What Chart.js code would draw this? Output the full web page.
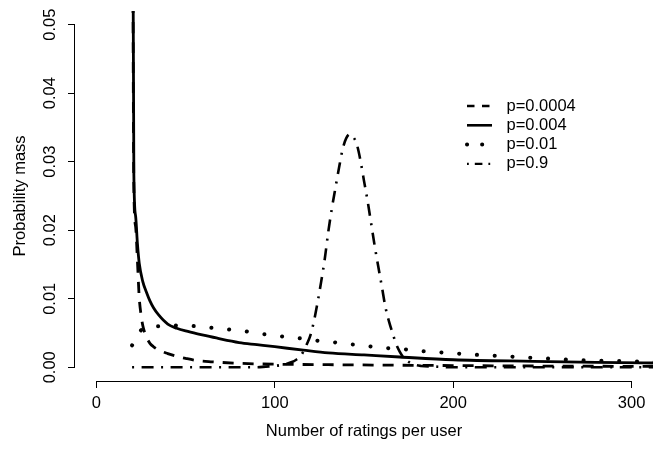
<!DOCTYPE html>
<html>
<head>
<meta charset="utf-8">
<script src="https://cdn.jsdelivr.net/npm/chart.js@4/dist/chart.umd.min.js"></script>
<style>
  html, body { margin: 0; padding: 0; background: #fff; }
  #wrap { width: 667px; height: 451px; }
</style>
</head>
<body>
<div id="wrap"><canvas id="chart" width="667" height="451"></canvas></div>
<script>
// ratings per user (x) and probability mass (y), one pair of arrays per p
const ratingsA = [20, 21, 22, 23, 24, 25, 26, 27, 28, 30, 32, 35, 40, 45, 50, 56, 65, 78, 100, 130, 160, 200, 250, 320];
const massA = [0.1, 0.026, 0.0205, 0.0155, 0.0102, 0.0077, 0.0061, 0.0051, 0.0044, 0.0035, 0.003, 0.0025, 0.002, 0.0016, 0.0013, 0.001, 0.0008, 0.0006, 0.00045, 0.00038, 0.00032, 0.00025, 0.00018, 0.00012];

const ratingsB = [20, 21, 22, 23, 24, 26, 28, 30, 32, 35, 40, 45, 50, 60, 70, 80, 90, 100, 116, 130, 150, 170, 200, 245, 280, 320];
const massB = [0.1, 0.028, 0.022, 0.018, 0.0152, 0.0125, 0.011, 0.0097, 0.0087, 0.0076, 0.0063, 0.0057, 0.0053, 0.0047, 0.0041, 0.0036, 0.0033, 0.003, 0.0025, 0.0021, 0.0018, 0.0015, 0.0011, 0.00087, 0.00072, 0.0006];

const ratingsC = [20, 22, 25, 30, 35, 45, 55, 65, 75, 85, 95, 105, 115, 125, 135, 145, 155, 165, 175, 185, 195, 205, 215, 225, 235, 245, 255, 265, 275, 285, 295, 305, 320];
const massC = [0.0032, 0.0045, 0.0054, 0.0059, 0.006, 0.0061, 0.006, 0.00575, 0.0055, 0.0052, 0.0048, 0.00447, 0.0042, 0.00385, 0.0036, 0.0033, 0.003, 0.00275, 0.00257, 0.0023, 0.00214, 0.00195, 0.0018, 0.00167, 0.00152, 0.00138, 0.00124, 0.0011, 0.001, 0.00095, 0.0009, 0.00085, 0.0008];

const ratingsD = [20, 60, 90, 95, 100, 105, 110, 112, 114, 116, 118, 120, 122, 124, 126, 128, 130, 132, 134, 136, 138, 140, 142, 144, 146, 148, 150, 152, 154, 156, 158, 160, 162, 164, 166, 168, 170, 172, 175, 178, 182, 190, 200, 320];
const massD = [0, 0, 0, 0.0001, 0.0002, 0.0004, 0.0008, 0.0011, 0.0015, 0.0023, 0.0034, 0.0047, 0.0068, 0.0095, 0.0125, 0.0158, 0.0198, 0.0232, 0.0262, 0.0291, 0.0318, 0.0334, 0.034, 0.0336, 0.0325, 0.0302, 0.0272, 0.0243, 0.021, 0.0177, 0.0147, 0.0118, 0.0088, 0.0067, 0.005, 0.0034, 0.0023, 0.0015, 0.0008, 0.0004, 0.0002, 0.0001, 0, 0];

const seriesLabels = ['p=0.0004', 'p=0.004', 'p=0.01', 'p=0.9'];
const xTicks = [0, 100, 200, 300];
const yTicks = [0, 0.01, 0.02, 0.03, 0.04, 0.05];

const FONT = { family: 'Liberation Sans, Arial, Helvetica, sans-serif', size: 16.5 };

function pts(xs, ys) {
  return xs.map((x, i) => ({ x: x, y: ys[i] }));
}

function line(label, xs, ys, extra) {
  return Object.assign({
    label: label,
    data: pts(xs, ys),
    borderColor: '#000',
    borderWidth: 2.8,
    pointRadius: 0,
    cubicInterpolationMode: 'monotone',
    fill: false,
    clip: 0
  }, extra);
}

// R-style axes: the axis line only runs from the first to the last tick
const rAxes = {
  id: 'rAxes',
  afterDraw(chart) {
    const ctx = chart.ctx;
    const xs = chart.scales.x, ys = chart.scales.y;
    const area = chart.chartArea;
    ctx.save();
    ctx.strokeStyle = '#000';
    ctx.lineWidth = 1;
    ctx.beginPath();
    ctx.moveTo(xs.getPixelForValue(xTicks[0]), Math.round(area.bottom) + 0.5);
    ctx.lineTo(xs.getPixelForValue(xTicks[xTicks.length - 1]), Math.round(area.bottom) + 0.5);
    ctx.moveTo(Math.round(area.left) - 0.5, ys.getPixelForValue(yTicks[0]));
    ctx.lineTo(Math.round(area.left) - 0.5, ys.getPixelForValue(yTicks[yTicks.length - 1]));
    ctx.stroke();
    ctx.restore();
  }
};

// key inside the plot, no frame
const insetKey = {
  id: 'insetKey',
  afterDraw(chart) {
    const ctx = chart.ctx;
    const x0 = 467, x1 = 492, tx = 506.5;
    let y = 106;
    ctx.save();
    ctx.font = FONT.size + 'px ' + FONT.family;
    ctx.textBaseline = 'middle';
    ctx.fillStyle = '#000';
    chart.data.datasets.forEach(ds => {
      ctx.save();
      ctx.strokeStyle = '#000';
      ctx.lineWidth = ds.keyWidth;
      ctx.lineCap = ds.borderCapStyle || 'butt';
      ctx.setLineDash(ds.keyDash);
      ctx.beginPath();
      ctx.moveTo(x0, y);
      ctx.lineTo(x1, y);
      ctx.stroke();
      ctx.restore();
      ctx.fillText(ds.label, tx, y);
      y += 19.3;
    });
    ctx.restore();
  }
};

const ctx = document.getElementById('chart').getContext('2d');
new Chart(ctx, {
  type: 'line',
  data: {
    datasets: [
      line(seriesLabels[0], ratingsA, massA, { borderDash: [11, 9], keyDash: [7.5, 7.5], keyWidth: 2.6 }),
      line(seriesLabels[1], ratingsB, massB, { keyDash: [], keyWidth: 2.6 }),
      line(seriesLabels[2], ratingsC, massC, { borderWidth: 4, borderCapStyle: 'round', borderDash: [0.1, 17.7], keyDash: [0.1, 15], keyWidth: 4 }),
      line(seriesLabels[3], ratingsD, massD, { borderWidth: 2.6, borderDash: [2, 7.5, 12, 7.5], keyDash: [1.8, 6, 7.6, 6], keyWidth: 2.4 })
    ]
  },
  options: {
    responsive: false,
    animation: false,
    events: [],
    layout: { padding: { top: 3, right: 14, left: 0, bottom: 0 } },
    plugins: { legend: { display: false }, tooltip: { enabled: false } },
    scales: {
      x: {
        type: 'linear',
        min: -12,
        max: 312,
        afterBuildTicks: s => { s.ticks = xTicks.map(v => ({ value: v })); },
        afterFit: s => { s.height = 70; },
        grid: { drawOnChartArea: false, drawTicks: true, tickLength: 7, color: '#000', lineWidth: 1 },
        border: { display: false },
        ticks: { color: '#000', font: FONT, padding: 6, maxRotation: 0, callback: v => String(v) },
        title: { display: true, text: 'Number of ratings per user', color: '#000', font: FONT, padding: { top: 0, bottom: 9.3 } }
      },
      y: {
        type: 'linear',
        min: -0.002,
        max: 0.052,
        afterBuildTicks: s => { s.ticks = yTicks.map(v => ({ value: v })); },
        afterFit: s => { s.width = 75; },
        grid: { drawOnChartArea: false, drawTicks: true, tickLength: 7, color: '#000', lineWidth: 1 },
        border: { display: false },
        ticks: { color: '#000', font: FONT, padding: 1, minRotation: 90, maxRotation: 90, crossAlign: 'center', callback: v => v.toFixed(2) },
        title: { display: true, text: 'Probability mass', color: '#000', font: FONT, padding: { top: 11, bottom: 0 } }
      }
    }
  },
  plugins: [rAxes, insetKey]
});
</script>
</body>
</html>
